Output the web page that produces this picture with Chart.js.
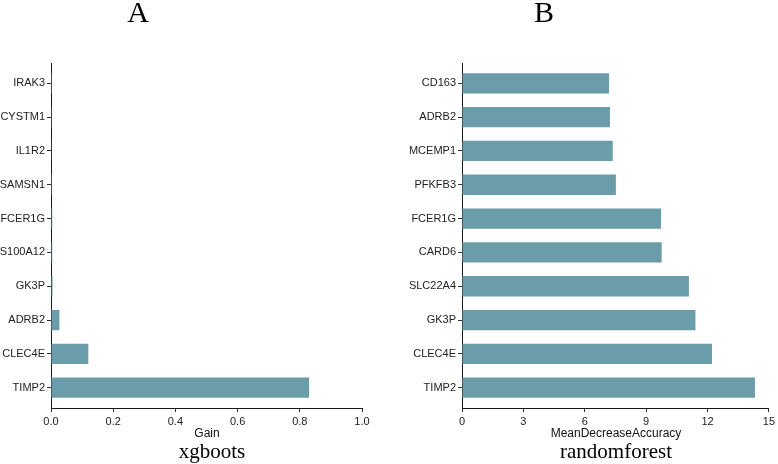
<!DOCTYPE html>
<html>
<head>
<meta charset="utf-8">
<script src="https://cdn.jsdelivr.net/npm/chart.js@4"></script>
<style>
  html, body { margin: 0; padding: 0; background: #fff; }
  #wrap { position: relative; width: 778px; height: 464px; overflow: hidden; }
  .panel { position: absolute; top: 0; width: 389px; height: 464px; }
  .txt { position: absolute; white-space: nowrap; color: #000; transform: translateX(-50%); }
  .ttl { font-family: "Liberation Serif", serif; font-size: 30px; line-height: 30px; }
  .axt { font-family: "Liberation Sans", Arial, sans-serif; font-size: 12px; line-height: 12px; color: #111; }
  .sub { font-family: "Liberation Serif", serif; font-size: 21px; line-height: 21px; }
</style>
</head>
<body>
<div id="wrap">
  <div class="panel" style="left:0"><canvas id="chartA"></canvas></div>
  <div class="panel" style="left:389px"><canvas id="chartB"></canvas></div>
  <div class="txt ttl" style="left:138px; top:-3px">A</div>
  <div class="txt ttl" style="left:544px; top:-3px">B</div>
  <div class="txt axt" style="left:207px; top:427px">Gain</div>
  <div class="txt axt" style="left:616px; top:427px">MeanDecreaseAccuracy</div>
  <div class="txt sub" style="left:212px; top:441px">xgboots</div>
  <div class="txt sub" style="left:616px; top:441px">randomforest</div>
</div>
<script>
// xgboost importance (top to bottom as in the figure)
const xgbGenes = ["IRAK3", "CYSTM1", "IL1R2", "SAMSN1", "FCER1G", "S100A12", "GK3P", "ADRB2", "CLEC4E", "TIMP2"];
const xgbGain = [0.0003, 0.0005, 0.001, 0.003, 0.004, 0.004, 0.005, 0.027, 0.120, 0.830];
const xgbTicks = [0, 0.2, 0.4, 0.6, 0.8, 1.0];

// random forest importance
const rfGenes = ["CD163", "ADRB2", "MCEMP1", "PFKFB3", "FCER1G", "CARD6", "SLC22A4", "GK3P", "CLEC4E", "TIMP2"];
const rfMDA = [7.19, 7.23, 7.37, 7.52, 9.73, 9.76, 11.09, 11.41, 12.22, 14.32];
const rfTicks = [0, 3, 6, 9, 12, 15];

const barColor = "#6a9ca9";
const axisColor = "#1a1a1a";
const tickFont = { family: "'Liberation Sans', Arial, sans-serif", size: 11 };

function makeChart(canvasId, genes, values, ticks, yWidth, padRight, xFormat) {
    const ctx = document.getElementById(canvasId);
    ctx.width = 389;
    ctx.height = 464;
    return new Chart(ctx, {
        type: "bar",
        data: {
            datasets: [{
                data: genes.map((g, i) => ({ x: values[i], y: i })),
                backgroundColor: barColor,
                borderWidth: 0,
                barPercentage: 0.6,
                categoryPercentage: 1.0
            }]
        },
        options: {
            indexAxis: "y",
            responsive: false,
            animation: false,
            devicePixelRatio: 1,
            layout: { padding: { top: 63, right: padRight, bottom: 0, left: 0 } },
            plugins: { legend: { display: false }, tooltip: { enabled: false } },
            scales: {
                x: {
                    type: "linear",
                    min: ticks[0],
                    max: ticks[ticks.length - 1],
                    afterBuildTicks: s => { s.ticks = ticks.map(v => ({ value: v })); },
                    afterFit: s => { s.height = 56; },
                    grid: { drawOnChartArea: false, drawTicks: true, tickLength: 4, color: "#333", lineWidth: 1 },
                    border: { color: axisColor, width: 1 },
                    ticks: { color: "#222", font: tickFont, padding: 3, maxRotation: 0, callback: xFormat }
                },
                y: {
                    type: "linear",
                    reverse: true,
                    offset: false,
                    bounds: "data",
                    min: -0.6,
                    max: genes.length - 1 + 0.6,
                    afterBuildTicks: s => { s.ticks = genes.map((g, i) => ({ value: i })); },
                    afterFit: s => { s.width = yWidth; },
                    grid: { offset: false, drawOnChartArea: false, drawTicks: true, tickLength: 4, color: "#333", lineWidth: 1 },
                    border: { color: axisColor, width: 1 },
                    ticks: { color: "#222", font: tickFont, padding: 2, callback: v => genes[v] }
                }
            }
        }
    });
}

makeChart("chartA", xgbGenes, xgbGain, xgbTicks, 51, 27, v => Number(v).toFixed(1));
makeChart("chartB", rfGenes, rfMDA, rfTicks, 73, 7, v => String(v));
</script>
</body>
</html>
